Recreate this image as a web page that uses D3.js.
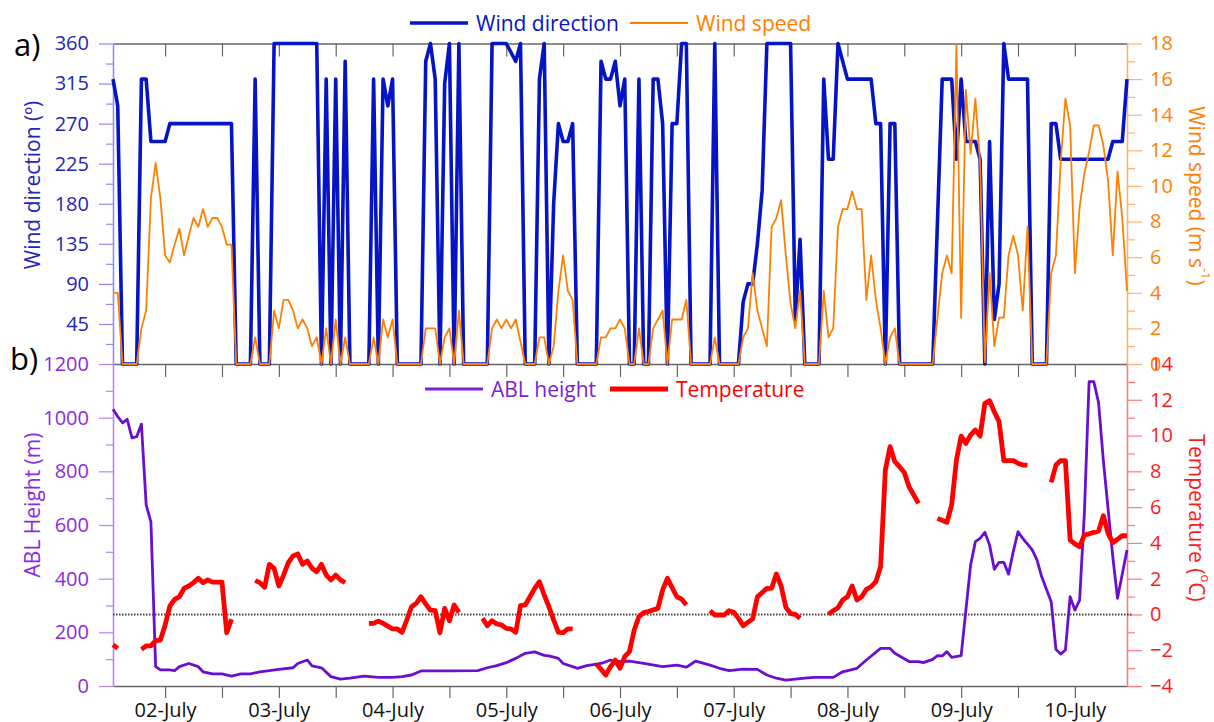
<!DOCTYPE html>
<html>
<head>
<meta charset="utf-8">
<script src="https://cdn.jsdelivr.net/npm/d3@7"></script>
<style>
body { margin: 0; background: #fff; }
</style>
</head>
<body>
<script>
// hours counted from 01-July 00:00
var windDir = [[13,320],[14,290],[15,0],[18,0],[19,320],[20,320],[21,250],[24,250],[25,270],[38,270],[39,0],[42,0],
  [43,320],[44,0],[46,0],[47,360],[56,360],[57,0],[58,320],[59,0],[60,320],[61,0],[62,340],[63,0],[67,0],[68,320],
  [69,0],[70,320],[71,290],[72,320],[73,0],[78,0],[79,340],[80,360],[81,320],[82,0],[83,315],[84,360],[85,0],[86,360],
  [87,0],[92,0],[93,360],[96,360],[98,340],[99,360],[100,0],[102,0],[103,320],[104,360],[105,0],[106,180],[107,270],
  [108,250],[109,250],[110,270],[111,0],[115,0],[116,340],[117,320],[118,320],[119,340],[120,290],[121,320],[122,0],
  [123,0],[124,320],[125,0],[126,0],[127,320],[128,320],[129,270],[130,0],[131,270],[132,270],[133,360],[134,360],
  [135,0],[139,0],[140,360],[141,0],[145,0],[146,70],[147,90],[148,90],[149,135],[150,195],[151,360],[156,360],
  [157,50],[158,140],[159,0],[162,0],[163,320],[164,230],[165,230],[166,360],[168,320],[173,320],[174,270],[175,270],
  [176,0],[177,270],[178,270],[179,0],[186,0],[188,320],[190,320],[191,230],[192,320],[193,250],[195,250],[196,230],
  [197,0],[198,250],[199,50],[200,90],[201,360],[202,320],[206,320],[207,0],[210,0],[211,270],[212,270],[213,230],
  [223,230],[224,250],[226,250],[227,320]];

var windSpeed = [[13,4],[14,4],[15,0],[18,0],[19,2],[20,3],[21,9.3],[22,11.3],[23,9.3],[24,6.1],[25,5.7],[26,6.7],
  [27,7.6],[28,6.1],[29,7.2],[30,8.2],[31,7.7],[32,8.7],[33,7.7],[34,8.2],[35,8.2],[36,7.7],[37,6.7],[38,6.7],[39,0],
  [42,0],[43,1.5],[44,0],[46,0],[47,3],[48,2],[49,3.6],[50,3.6],[51,3],[52,2],[53,2.5],[54,2],[55,1],[56,1.5],[57,0],
  [58,2],[59,0],[60,2.5],[61,0],[62,1.5],[63,0],[67,0],[68,1.5],[69,0],[70,2.5],[71,1.5],[72,2.5],[73,0],[78,0],
  [79,2],[81,2],[82,0],[83,1.5],[84,2],[85,0],[86,3],[87,0],[92,0],[93,2],[94,2.5],[95,2],[96,2.5],[97,2],[98,2.5],
  [100,0],[102,0],[103,1.5],[104,1.5],[105,0],[106,1],[107,4.1],[108,6.1],[109,4.1],[110,3.6],[111,0],[115,0],
  [116,1.5],[117,1.5],[118,2],[119,2],[120,2.5],[121,2],[122,0],[123,0],[124,2],[125,0],[126,0],[127,2],[128,2.5],
  [129,3],[130,0],[131,2.5],[133,2.5],[134,3.6],[135,0],[139,0],[140,1.5],[141,0],[145,0],[146,1.5],[147,2],
  [148,5.1],[149,3],[150,2],[151,1],[152,7.7],[153,8.2],[154,9.2],[155,6.1],[156,3.4],[157,2],[158,4.1],[159,0],
  [162,0],[163,4.1],[164,1.5],[165,2],[166,7.7],[167,8.7],[168,8.7],[169,9.7],[170,8.7],[171,8.7],[172,3.6],
  [173,6.1],[174,3.6],[175,2],[176,0],[177,1.5],[178,2],[179,0],[186,0],[187,2.6],[188,5.1],[189,6.1],[190,5.1],
  [191,17.9],[192,2.6],[193,15.4],[194,11.8],[195,14.9],[196,11.3],[197,0.1],[198,5.1],[199,1],[200,2.6],[201,2.6],
  [202,6.1],[203,7.2],[204,6.1],[205,3],[206,7.7],[207,0],[210,0],[211,5.1],[212,6.1],[213,11.3],[214,14.9],
  [215,13.4],[216,5.1],[217,8.8],[218,10.7],[219,11.9],[220,13.4],[221,13.4],[222,12.3],[223,10.3],[224,6.1],
  [225,10.8],[226,8.2],[227,4.1]];

var ablHeight = [[13,1031],[14,1004],[15,981],[16,994],[17,925],[18,929],[19,976],[20,675],[21,612],[22,72],[23,60],
  [25,60],[26,57],[27,72],[29,84],[31,72],[32,53],[34,45],[36,45],[38,37],[40,45],[42,45],[44,53],[46,57],[48,62],
  [51,68],[52,84],[54,97],[55,75],[57,68],[59,35],[61,26],[63,29],[66,37],[69,32],[72,32],[74,35],[76,41],[78,56],
  [84,56],[90,57],[92,68],[94,76],[96,87],[98,103],[100,122],[102,127],[104,114],[105,112],[107,103],[108,84],
  [110,72],[111,66],[113,76],[116,84],[118,97],[119,91],[122,93],[125,84],[129,72],[132,78],[134,70],[136,93],
  [139,78],[141,66],[143,57],[146,63],[149,62],[151,41],[153,29],[155,22],[159,29],[161,32],[165,32],[167,53],
  [170,66],[172,97],[175,140],[177,140],[178,122],[181,91],[183,91],[184,87],[186,99],[187,113],[188,112],[189,128],
  [190,107],[192,113],[193,283],[194,451],[195,538],[196,550],[197,573],[198,525],[199,435],[200,461],[201,461],
  [202,417],[203,501],[204,575],[205,550],[207,507],[208,470],[209,407],[211,314],[212,137],[213,119],[214,134],
  [215,333],[216,283],[217,320],[218,643],[219,1134],[220,1134],[221,1056],[222,842],[224,482],[225,327],[227,507]];

// null = no measurement (gap in the line)
var temperature = [[13,-1.7],[14,-1.9],[15,null],
  [19,-1.95],[20,-1.76],[21,-1.76],[22,-1.47],[23,-1.43],[24,-0.6],[25,0.47],[26,0.84],[27,0.99],[28,1.46],[29,1.59],
  [30,1.78],[31,2.02],[32,1.78],[33,1.93],[34,1.81],[36,1.81],[37,-1.02],[38,-0.27],[39,null],
  [43,1.89],[44,1.78],[45,1.52],[46,2.8],[47,2.58],[48,1.59],[49,2.2],[50,2.9],[51,3.27],[52,3.38],[53,2.8],[54,2.99],
  [55,2.58],[56,2.39],[57,2.8],[58,2.2],[59,1.93],[60,2.2],[61,1.93],[62,1.78],[63,null],
  [67,-0.5],[68,-0.5],[69,-0.37],[70,-0.5],[71,-0.65],[72,-0.81],[73,-0.81],[74,-1],[75,-0.31],[76,0.43],[77,0.62],
  [78,0.99],[79,0.58],[80,0.24],[81,0.21],[82,-1.02],[83,0.34],[84,-0.35],[85,0.53],[86,0.11],[87,null],
  [91,-0.22],[92,-0.63],[93,-0.35],[94,-0.53],[95,-0.59],[96,-0.78],[97,-0.81],[98,-1],[99,0.49],[100,0.53],
  [101,0.99],[102,1.46],[103,1.83],[104,1.09],[105,0.43],[106,-0.31],[107,-1],[108,-1.02],[109,-0.81],[110,-0.81],[111,null],
  [115,-2.77],[116,-3.07],[117,-3.39],[118,-2.92],[119,-2.55],[120,-3.01],[121,-2.36],[122,-2.08],[123,-0.87],
  [124,-0.12],[125,0.1],[126,0.16],[128,0.34],[129,1.37],[130,2.02],[131,1.5],[132,0.99],[133,0.86],[134,0.53],[135,null],
  [139,0.21],[140,-0.03],[142,-0.03],[143,0.21],[144,0.12],[145,-0.22],[146,-0.63],[148,-0.25],[149,0.99],[150,1.22],
  [151,1.46],[152,1.46],[153,2.26],[154,1.6],[155,0.4],[156,0.05],[157,0],[158,-0.22],[159,null],
  [164,0],[165,0.21],[166,0.38],[167,0.81],[168,0.99],[169,1.59],[170,0.81],[171,0.99],[172,1.4],[173,1.55],
  [174,1.83],[175,2.67],[176,8.07],[177,9.38],[178,8.54],[179,8.26],[180,7.94],[181,7.14],[182,6.68],[183,6.21],[184,null],
  [187,5.37],[189,5.15],[190,6.12],[191,8.63],[192,9.97],[193,9.56],[194,10.03],[195,10.31],[196,9.97],[197,11.8],
  [198,11.95],[199,11.33],[200,10.78],[201,8.6],[202,8.6],[203,8.6],[204,8.45],[205,8.35],[206,8.35],[207,null],
  [211,7.38],[212,8.35],[213,8.6],[214,8.6],[215,4.16],[216,3.94],[217,3.79],[218,4.44],[219,4.5],[220,4.59],
  [221,4.66],[222,5.52],[223,4.53],[224,4.01],[225,4.2],[226,4.4],[227,4.4]];

var dirTicks = [45, 90, 135, 180, 225, 270, 315, 360];
var speedTicks = [0, 2, 4, 6, 8, 10, 12, 14, 16, 18];
var ablTicks = [0, 200, 400, 600, 800, 1000, 1200];
var tempTicks = [-4, -2, 0, 2, 4, 6, 8, 10, 12, 14];

var width = 1214;
var height = 722;
var left = 113, right = 1127;
var topA = 43.5, mid = 364, bottom = 686;
var font = "'Open Sans', sans-serif";
var num = d3.format("d");

var t0 = Date.UTC(2019, 6, 1);
function toDate(h) { return new Date(t0 + h * 3600000); }

var svg = d3.select("body")
            .append("svg")
            .attr("width", width)
            .attr("height", height);

var x = d3.scaleUtc().domain([toDate(13), toDate(227)]).range([left, right]);
var yDir = d3.scaleLinear().domain([0, 360]).range([mid, topA]);
var ySpeed = d3.scaleLinear().domain([0, 18]).range([mid, topA]);
var yAbl = d3.scaleLinear().domain([0, 1200]).range([bottom, mid]);
var yTemp = d3.scaleLinear().domain([-4, 14]).range([bottom, mid]);

function paint(g, lineColor, textColor) {
    g.attr("font-family", font).attr("font-size", 20);
    g.select(".domain").attr("stroke", lineColor).attr("stroke-width", 1.3);
    g.selectAll(".tick line").attr("stroke", lineColor).attr("stroke-width", 1.2);
    g.selectAll(".tick text").attr("fill", textColor);
}

// x axes (ticks every 12 h, label at midnight)
var dayFmt = d3.utcFormat("%d-July");
var every12 = d3.utcHour.every(12);

svg.append("g")
    .attr("transform", "translate(0," + bottom + ")")
    .call(d3.axisBottom(x).ticks(every12).tickSize(12).tickSizeOuter(0).tickPadding(5)
          .tickFormat(function(d) { return d.getUTCHours() == 0 ? dayFmt(d) : ""; }))
    .call(paint, "#666", "#111");

svg.append("g")
    .attr("transform", "translate(0," + mid + ")")
    .call(d3.axisBottom(x).ticks(every12).tickSize(13).tickSizeOuter(0).tickFormat(""))
    .call(paint, "#666", "#111");

svg.append("g")
    .attr("transform", "translate(0," + topA + ")")
    .call(d3.axisBottom(x).ticks(every12).tickSize(13).tickSizeOuter(0).tickFormat(""))
    .call(paint, "#666", "#111");

// bottom panel y axes
svg.append("g")
    .attr("transform", "translate(" + left + ",0)")
    .call(d3.axisLeft(yAbl).tickValues(d3.range(100, 1200, 200)).tickSize(7).tickSizeOuter(0).tickFormat(""))
    .call(paint, "#b784f2", "#8a2be2");
svg.append("g")
    .attr("transform", "translate(" + left + ",0)")
    .call(d3.axisLeft(yAbl).tickValues(ablTicks).tickSize(14).tickSizeOuter(0).tickPadding(10).tickFormat(num))
    .call(paint, "#b784f2", "#8a2be2");

svg.append("g")
    .attr("transform", "translate(" + right + ",0)")
    .call(d3.axisRight(yTemp).tickValues(d3.range(-3, 14, 2)).tickSize(8).tickSizeOuter(0).tickFormat(""))
    .call(paint, "#ff7a7a", "#ff1a1a");
svg.append("g")
    .attr("transform", "translate(" + right + ",0)")
    .call(d3.axisRight(yTemp).tickValues(tempTicks).tickSize(15).tickSizeOuter(0).tickPadding(8).tickFormat(num))
    .call(paint, "#ff7a7a", "#ff1a1a");

// top panel y axes
svg.append("g")
    .attr("transform", "translate(" + left + ",0)")
    .call(d3.axisLeft(yDir).tickValues(d3.range(22.5, 360, 45)).tickSize(7).tickSizeOuter(0).tickFormat(""))
    .call(paint, "#8c8cf2", "#2525b8");
svg.append("g")
    .attr("transform", "translate(" + left + ",0)")
    .call(d3.axisLeft(yDir).tickValues(dirTicks).tickSize(14).tickSizeOuter(0).tickPadding(10).tickFormat(num))
    .call(paint, "#8c8cf2", "#2525b8");

svg.append("g")
    .attr("transform", "translate(" + right + ",0)")
    .call(d3.axisRight(ySpeed).tickValues(d3.range(1, 18, 2)).tickSize(8).tickSizeOuter(0).tickFormat(""))
    .call(paint, "#ffb26a", "#ff8000");
svg.append("g")
    .attr("transform", "translate(" + right + ",0)")
    .call(d3.axisRight(ySpeed).tickValues(speedTicks).tickSize(15).tickSizeOuter(0).tickPadding(8).tickFormat(num))
    .call(paint, "#ffb26a", "#ff8000");

// zero degree line
svg.append("line")
    .attr("x1", left).attr("x2", right + 6)
    .attr("y1", yTemp(0)).attr("y2", yTemp(0))
    .attr("stroke", "#444")
    .attr("stroke-width", 2)
    .attr("stroke-dasharray", "1.5,1.5");

function drawLine(data, yScale, color, w) {
    var line = d3.line()
                 .defined(function(d) { return d[1] != null; })
                 .x(function(d) { return x(toDate(d[0])); })
                 .y(function(d) { return yScale(d[1]); });
    svg.append("path")
        .datum(data)
        .attr("d", line)
        .attr("fill", "none")
        .attr("stroke", color)
        .attr("stroke-width", w)
        .attr("stroke-linejoin", "round");
}

drawLine(ablHeight, yAbl, "#6a0fd0", 2.8);
drawLine(temperature, yTemp, "#ff0000", 4.8);
drawLine(windDir, yDir, "#0514c4", 3.6);
drawLine(windSpeed, ySpeed, "#ff8000", 1.8);

// legends
function legend(x1, y, color, w, label) {
    svg.append("line")
        .attr("x1", x1).attr("x2", x1 + 58)
        .attr("y1", y).attr("y2", y)
        .attr("stroke", color).attr("stroke-width", w);
    svg.append("text")
        .attr("x", x1 + 66).attr("y", y + 8)
        .attr("font-family", font).attr("font-size", 21)
        .attr("fill", color)
        .text(label);
}
legend(410, 23, "#0514c4", 3.6, "Wind direction");
legend(630, 23, "#ff8000", 2, "Wind speed");
legend(425, 389, "#7a22d8", 3, "ABL height");
legend(610, 389, "#ff0000", 5, "Temperature");

// axis titles
function title(cx, cy, angle, color) {
    return svg.append("text")
        .attr("transform", "translate(" + cx + "," + cy + ") rotate(" + angle + ")")
        .attr("text-anchor", "middle")
        .attr("dominant-baseline", "central")
        .attr("font-family", font).attr("font-size", 21)
        .attr("fill", color);
}
title(32, 185, -90, "#2525b8").text("Wind direction (º)");
title(32, 505, -90, "#8a2be2").text("ABL Height (m)");

var ws = title(1197, 196, 90, "#ff8000");
ws.append("tspan").text("Wind speed (m s");
ws.append("tspan").attr("font-size", 13).attr("dy", -9).text("-1");
ws.append("tspan").attr("dy", 9).text(")");

var tt = title(1197, 518, 90, "#ff1a1a");
tt.append("tspan").text("Temperature (");
tt.append("tspan").attr("font-size", 13).attr("dy", -9).text("o");
tt.append("tspan").attr("dy", 9).text("C)");

// panel letters
svg.append("text").attr("x", 14).attr("y", 56)
    .attr("font-family", font).attr("font-size", 31).attr("fill", "#000").text("a)");
svg.append("text").attr("x", 10).attr("y", 370)
    .attr("font-family", font).attr("font-size", 31).attr("fill", "#000").text("b)");
</script>
</body>
</html>
